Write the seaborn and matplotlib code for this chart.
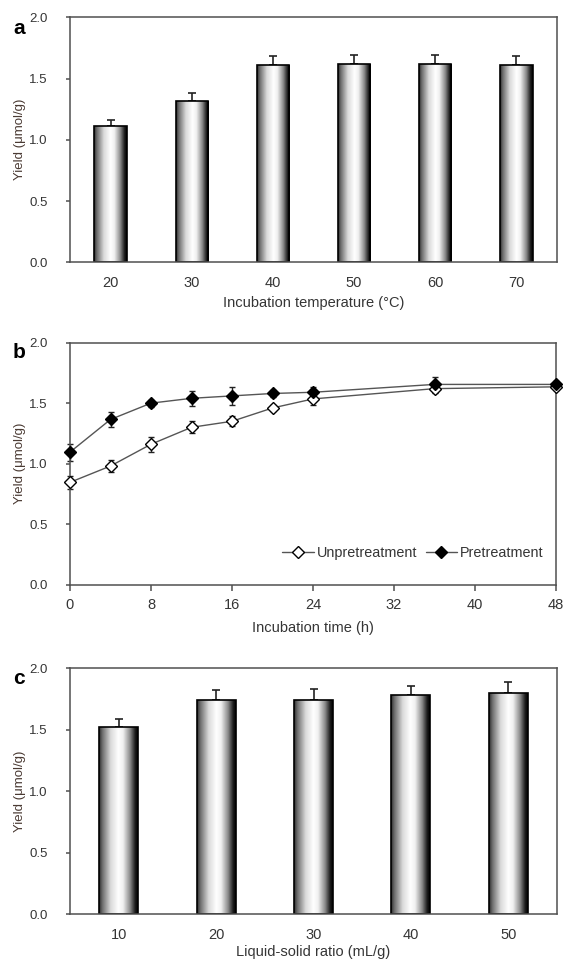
import numpy as np
import pandas as pd
import matplotlib
matplotlib.use("Agg")
import matplotlib.pyplot as plt
from matplotlib.colors import LinearSegmentedColormap
from matplotlib.lines import Line2D
import seaborn as sns

# ---- data ----
temp_labels = ["20", "30", "40", "50", "60", "70"]
temp_yield = [1.11, 1.32, 1.61, 1.62, 1.62, 1.61]
temp_err = [0.05, 0.06, 0.07, 0.07, 0.07, 0.07]

time_h = [0, 4, 8, 12, 16, 20, 24, 36, 48]
unpre_yield = [0.845, 0.98, 1.16, 1.30, 1.35, 1.46, 1.535, 1.62, 1.635]
unpre_err = [0.056, 0.05, 0.06, 0.05, 0.04, 0.025, 0.05, 0.04, 0.03]
pre_yield = [1.095, 1.365, 1.50, 1.54, 1.56, 1.58, 1.59, 1.655, 1.655]
pre_err = [0.07, 0.06, 0.03, 0.06, 0.073, 0.025, 0.04, 0.06, 0.03]

ratio_labels = ["10", "20", "30", "40", "50"]
ratio_yield = [1.52, 1.74, 1.74, 1.78, 1.80]
ratio_err = [0.07, 0.08, 0.09, 0.08, 0.09]

TEXT = "#353535"
SPINE = "#505050"
YLAB = "#4a3a33"

sns.set_theme(style="white")
plt.rcParams["font.family"] = ["Liberation Sans", "DejaVu Sans"]

W, H = 563, 963
fig = plt.figure(figsize=(W / 100, H / 100), dpi=100)


def px_axes(left, top, right, bottom):
    return fig.add_axes([left / W, 1 - bottom / H, (right - left) / W, (bottom - top) / H])


cyl = LinearSegmentedColormap.from_list("cyl", [
    (0.0, "#2a2a2a"), (0.08, "#6a6a6a"), (0.3, "#dadada"), (0.5, "#ffffff"),
    (0.62, "#f0f0f0"), (0.8, "#8a8a8a"), (0.93, "#1c1c1c"), (1.0, "#000000"),
])
grad = np.linspace(0, 1, 256).reshape(1, -1)


def style_axes(ax, xlabel, xtick_len, xpad, xlabelpad):
    ax.set_ylim(0, 2.0)
    ax.set_yticks([0, 0.5, 1.0, 1.5, 2.0])
    ax.set_yticklabels(["0.0", "0.5", "1.0", "1.5", "2.0"])
    for s in ax.spines.values():
        s.set_visible(True)
        s.set_color(SPINE)
        s.set_linewidth(1.1)
    ax.tick_params(axis="y", direction="out", length=3, width=1.1, color=SPINE,
                   labelsize=9.5, labelcolor=TEXT, pad=13, left=True)
    ax.tick_params(axis="x", direction="out", length=xtick_len, width=1.1, color=SPINE,
                   labelsize=10.5, labelcolor=TEXT, pad=xpad, bottom=xtick_len > 0)
    ax.set_ylabel("Yield (\u03bcmol/g)", fontsize=9.5, color=YLAB, labelpad=2)
    ax.set_xlabel(xlabel, fontsize=10.5, color=TEXT, labelpad=xlabelpad)


def bar_panel(ax, labels, values, errs, width):
    df = pd.DataFrame({"x": labels, "y": values})
    sns.barplot(data=df, x="x", y="y", color="white", edgecolor="black",
                linewidth=1.2, width=width, ax=ax, errorbar=None)
    for p in ax.patches:
        x0, w, h = p.get_x(), p.get_width(), p.get_height()
        im = ax.imshow(grad, cmap=cyl, aspect="auto", extent=[x0, x0 + w, 0, h],
                       zorder=p.get_zorder() + 0.1)
        im.set_clip_path(p)
        p.set_zorder(p.get_zorder() + 0.2)
        p.set_facecolor("none")
    xs = [p.get_x() + p.get_width() / 2 for p in ax.patches]
    ax.errorbar(xs, values, yerr=[[0] * len(errs), errs], fmt="none",
                ecolor="#222222", elinewidth=1.2, capsize=3, capthick=1.2, zorder=1)
    ax.set_xlim(-0.5, len(labels) - 0.5)


# ---- panel a ----
ax_a = px_axes(70, 17.3, 557, 262.3)
bar_panel(ax_a, temp_labels, temp_yield, temp_err, 0.40)
style_axes(ax_a, "Incubation temperature (\u00b0C)", 0, 10, 4)

# ---- panel b ----
ax_b = px_axes(70, 342.7, 556, 584.5)
df_b = pd.DataFrame({
    "t": time_h * 2,
    "y": unpre_yield + pre_yield,
    "grp": ["Unpretreatment"] * len(time_h) + ["Pretreatment"] * len(time_h),
})
for grp, err, face in [("Unpretreatment", unpre_err, "white"), ("Pretreatment", pre_err, "black")]:
    sub = df_b[df_b["grp"] == grp]
    ax_b.errorbar(sub["t"], sub["y"], yerr=err, fmt="none", ecolor="#222222",
                  elinewidth=1.0, capsize=2.5, capthick=1.0, zorder=2, clip_on=False)
    sns.lineplot(data=sub, x="t", y="y", ax=ax_b, color="#555555", linewidth=1.0,
                 marker="D", markersize=6, markerfacecolor=face,
                 markeredgecolor="black", markeredgewidth=1.0, zorder=3, clip_on=False)
ax_b.set_xlim(0, 48)
ax_b.set_xticks([0, 8, 16, 24, 32, 40, 48])
style_axes(ax_b, "Incubation time (h)", 4, 6, 6)
handles = [
    Line2D([], [], color="#555555", lw=1.0, marker="D", markersize=6,
           markerfacecolor="white", markeredgecolor="black"),
    Line2D([], [], color="#555555", lw=1.0, marker="D", markersize=6,
           markerfacecolor="black", markeredgecolor="black"),
]
ax_b.legend(handles, ["Unpretreatment", "Pretreatment"], ncol=2, frameon=False,
            loc="center right", bbox_to_anchor=(0.975, 0.13), fontsize=10.4,
            borderpad=0, borderaxespad=0,
            handlelength=2.2, handletextpad=0.2, columnspacing=0.55,
            labelcolor=TEXT)

# ---- panel c ----
ax_c = px_axes(70, 668.3, 557, 914.3)
bar_panel(ax_c, ratio_labels, ratio_yield, ratio_err, 0.40)
style_axes(ax_c, "Liquid-solid ratio (mL/g)", 0, 10, 2)

# ---- panel letters ----
for letter, y in [("a", 29), ("b", 352), ("c", 678)]:
    fig.text(19 / W, 1 - y / H, letter, fontsize=15, fontweight="bold",
             color="black", ha="center", va="center")

fig.savefig("out.png", dpi=100)
